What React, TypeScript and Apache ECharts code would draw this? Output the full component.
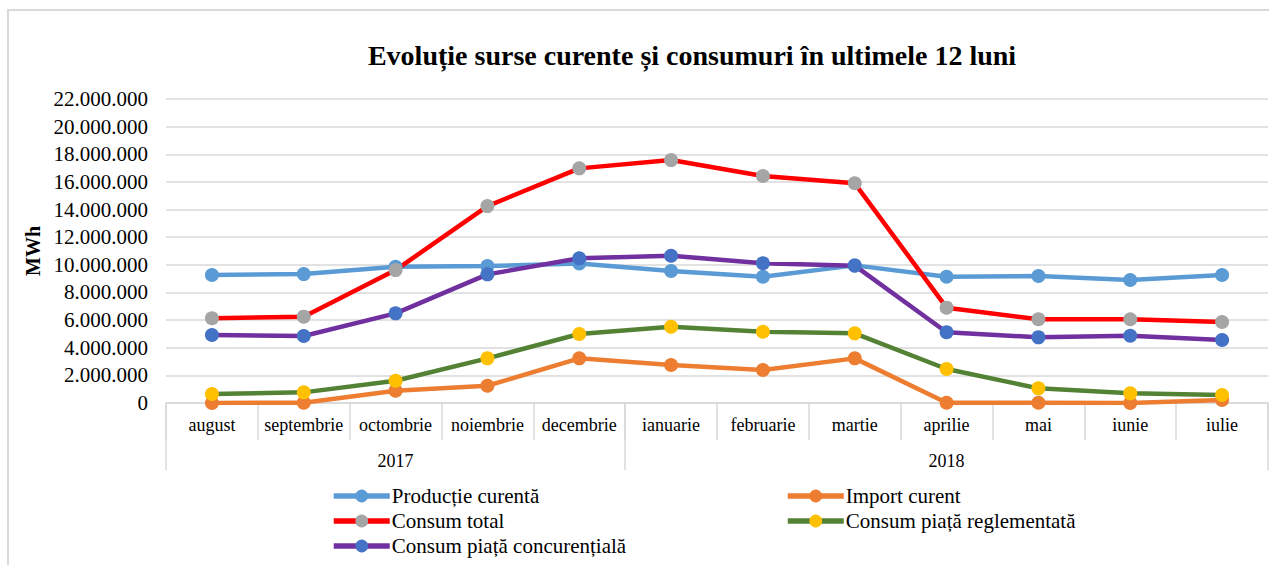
import React, { useEffect, useRef } from "react";
import * as echarts from "echarts";

const months = ["august", "septembrie", "octombrie", "noiembrie", "decembrie", "ianuarie", "februarie", "martie", "aprilie", "mai", "iunie", "iulie"];
const years = ["2017", "2018"];
const yearBounds = [0, 5, 12];
const yearCenters = [2.5, 8.5];

const seriesNames = ["Producție curentă", "Import curent", "Consum total", "Consum piață reglementată", "Consum piață concurențială"];
const productieCurenta = [9260000, 9330000, 9860000, 9910000, 10100000, 9550000, 9140000, 9960000, 9140000, 9190000, 8900000, 9260000];
const importCurent = [0, 20000, 890000, 1250000, 3230000, 2750000, 2390000, 3230000, 20000, 20000, 0, 220000];
const consumTotal = [6130000, 6250000, 9620000, 14250000, 16980000, 17580000, 16430000, 15900000, 6900000, 6060000, 6060000, 5860000];
const consumReglementata = [650000, 770000, 1610000, 3230000, 4990000, 5520000, 5160000, 5040000, 2460000, 1060000, 700000, 580000];
const consumConcurentiala = [4920000, 4850000, 6490000, 9310000, 10470000, 10660000, 10110000, 9940000, 5120000, 4750000, 4870000, 4560000];

const yTicks = { min: 0, max: 22000000, interval: 2000000 };

const FONT = "Liberation Serif";

function fmt(v: number): string {
  return String(Math.round(v)).replace(/\B(?=(\d{3})+(?!\d))/g, ".");
}

// legend slots: [seriesName, left, centerY]
const legendSlots: [string, number, number][] = [
  [seriesNames[0], 331, 496],
  [seriesNames[2], 331, 521],
  [seriesNames[4], 331, 546],
  [seriesNames[1], 785, 496],
  [seriesNames[3], 785, 521],
];

export default function App() {
  const ref = useRef<HTMLDivElement>(null);
  useEffect(() => {
    if (!ref.current) return;
    const chart = echarts.init(ref.current, undefined, { renderer: "svg" });
    const mk = (name: string, data: number[], line: string, marker: string) => ({
      name,
      type: "line",
      data,
      xAxisIndex: 0,
      yAxisIndex: 0,
      symbol: "circle",
      symbolSize: 14,
      lineStyle: { color: line, width: 4.5 },
      itemStyle: { color: marker },
      color: line,
    });
    chart.setOption({
      animation: false,
      backgroundColor: "#fff",
      title: {
        text: "Evoluție surse curente și consumuri în ultimele 12 luni",
        left: 687,
        top: 36,
        textAlign: "center",
        textStyle: { fontFamily: FONT, fontSize: 28, fontWeight: "bold", color: "#000" },
      },
      graphic: [
        {
          type: "rect",
          shape: { x: 8, y: 10, width: 1400, height: 700 },
          style: { fill: "none", stroke: "#d9d9d9", lineWidth: 2 },
          silent: true,
        },
      ],
      legend: legendSlots.map(([name, left, cy]) => ({
        left,
        top: cy - 11,
        padding: 0,
        itemWidth: 56,
        itemHeight: 16,
        itemGap: 0,
        data: [name],
        lineStyle: { width: 5.5 },
        textStyle: { fontFamily: FONT, fontSize: 21, color: "#000", padding: [0, 0, 0, -3], lineHeight: 22 },
      })),
      grid: { left: 166, right: 1, top: 99, bottom: 162, containLabel: false },
      xAxis: [
        {
          type: "category",
          data: months,
          boundaryGap: true,
          axisLine: { show: true, lineStyle: { color: "#d9d9d9", width: 1.5 } },
          axisTick: { show: true, interval: 0, length: 37, lineStyle: { color: "#d9d9d9", width: 1.5 } },
          axisLabel: { interval: 0, margin: 13, fontFamily: FONT, fontSize: 18, color: "#000" },
          splitLine: { show: false },
        },
        {
          type: "value",
          min: 0,
          max: 12,
          position: "bottom",
          axisLine: { show: false },
          axisTick: { show: true, customValues: yearBounds, length: 67, lineStyle: { color: "#d9d9d9", width: 1.5 } },
          axisLabel: {
            customValues: yearCenters,
            margin: 49,
            fontFamily: FONT,
            fontSize: 18,
            color: "#000",
            formatter: (v: number) => years[yearCenters.indexOf(v)] ?? "",
          },
          splitLine: { show: false },
        },
      ],
      yAxis: {
        type: "value",
        min: yTicks.min,
        max: yTicks.max,
        interval: yTicks.interval,
        name: "MWh",
        nameLocation: "middle",
        nameRotate: 90,
        nameGap: 122,
        nameTextStyle: { fontFamily: FONT, fontSize: 20, fontWeight: "bold", color: "#000" },
        axisLine: { show: false },
        axisTick: { show: false },
        axisLabel: { margin: 18, fontFamily: FONT, fontSize: 21, color: "#000", formatter: (v: number) => fmt(v) },
        splitLine: { show: true, lineStyle: { color: "#d9d9d9", width: 1.5 } },
      },
      series: [
        mk(seriesNames[0], productieCurenta, "#5b9bd5", "#5b9bd5"),
        mk(seriesNames[1], importCurent, "#ed7d31", "#ed7d31"),
        mk(seriesNames[2], consumTotal, "#ff0000", "#a5a5a5"),
        mk(seriesNames[3], consumReglementata, "#548235", "#ffc000"),
        mk(seriesNames[4], consumConcurentiala, "#7030a0", "#4472c4"),
      ],
    });
    return () => chart.dispose();
  }, []);
  return (
    <div
      ref={ref}
      style={{ position: "fixed", left: 0, top: 0, width: 1269, height: 565, background: "#fff" }}
    />
  );
}
